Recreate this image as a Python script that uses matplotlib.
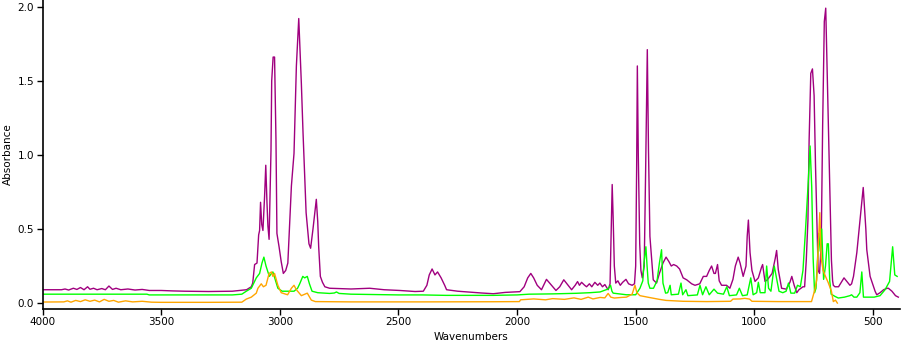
import matplotlib
matplotlib.use("Agg")
import matplotlib.pyplot as plt

# (wavenumber, absorbance)
purple = [
    (4000, 0.090), (3920, 0.090), (3905, 0.095), (3890, 0.088), (3870, 0.100),
    (3855, 0.092), (3840, 0.105), (3825, 0.090), (3810, 0.110), (3800, 0.093),
    (3785, 0.100), (3770, 0.090), (3750, 0.098), (3735, 0.090), (3720, 0.115),
    (3705, 0.092), (3690, 0.100), (3670, 0.090), (3640, 0.095), (3610, 0.088),
    (3580, 0.092), (3550, 0.085), (3500, 0.085), (3450, 0.082), (3400, 0.080),
    (3300, 0.078), (3200, 0.080), (3169, 0.085), (3140, 0.090), (3120, 0.110),
    (3114, 0.135), (3106, 0.260), (3096, 0.270), (3089, 0.460), (3085, 0.490),
    (3081, 0.680), (3076, 0.530), (3071, 0.490), (3064, 0.720), (3059, 0.930),
    (3054, 0.680), (3050, 0.520), (3045, 0.430), (3040, 0.790), (3037, 1.030),
    (3034, 1.500), (3028, 1.660), (3022, 1.660), (3016, 1.100), (3012, 0.470),
    (3003, 0.380), (2994, 0.280), (2985, 0.200), (2975, 0.220), (2966, 0.270),
    (2951, 0.790), (2940, 1.010), (2930, 1.600), (2920, 1.920), (2909, 1.480),
    (2902, 1.150), (2889, 0.610), (2877, 0.400), (2870, 0.370), (2860, 0.500),
    (2853, 0.600), (2846, 0.700), (2840, 0.550), (2836, 0.380), (2829, 0.180),
    (2820, 0.140), (2810, 0.110), (2790, 0.100), (2700, 0.095), (2621, 0.100),
    (2560, 0.090), (2494, 0.085), (2430, 0.078), (2395, 0.080), (2380, 0.120),
    (2370, 0.190), (2358, 0.230), (2346, 0.190), (2335, 0.210), (2320, 0.170),
    (2305, 0.120), (2297, 0.090), (2250, 0.080), (2150, 0.068), (2100, 0.063),
    (2050, 0.072), (1988, 0.077), (1970, 0.110), (1955, 0.170), (1942, 0.200),
    (1930, 0.170), (1915, 0.120), (1897, 0.090), (1876, 0.160), (1860, 0.130),
    (1836, 0.085), (1820, 0.110), (1803, 0.157), (1785, 0.120), (1770, 0.090),
    (1755, 0.120), (1745, 0.145), (1737, 0.120), (1728, 0.140), (1715, 0.120),
    (1707, 0.110), (1695, 0.130), (1685, 0.110), (1672, 0.140), (1660, 0.120),
    (1651, 0.135), (1640, 0.110), (1630, 0.125), (1616, 0.090), (1608, 0.130),
    (1603, 0.500), (1599, 0.800), (1595, 0.580), (1590, 0.250), (1584, 0.135),
    (1575, 0.150), (1565, 0.120), (1555, 0.140), (1541, 0.160), (1530, 0.130),
    (1515, 0.120), (1505, 0.130), (1500, 0.250), (1496, 0.900), (1493, 1.600),
    (1489, 1.000), (1483, 0.400), (1478, 0.220), (1472, 0.170), (1464, 0.250),
    (1458, 0.900), (1451, 1.710), (1446, 1.030), (1440, 0.450), (1426, 0.157),
    (1412, 0.135), (1400, 0.200), (1385, 0.270), (1372, 0.310), (1360, 0.280),
    (1350, 0.250), (1340, 0.260), (1327, 0.250), (1315, 0.230), (1300, 0.170),
    (1285, 0.157), (1264, 0.130), (1250, 0.120), (1230, 0.130), (1215, 0.180),
    (1201, 0.180), (1190, 0.220), (1180, 0.250), (1170, 0.200), (1164, 0.200),
    (1155, 0.260), (1148, 0.150), (1138, 0.120), (1117, 0.120), (1103, 0.100),
    (1090, 0.160), (1080, 0.250), (1068, 0.310), (1060, 0.270), (1047, 0.180),
    (1035, 0.250), (1030, 0.450), (1025, 0.560), (1018, 0.340), (1010, 0.220),
    (997, 0.146), (983, 0.170), (970, 0.240), (965, 0.260), (955, 0.146),
    (945, 0.157), (925, 0.200), (912, 0.300), (906, 0.355), (899, 0.225),
    (885, 0.100), (865, 0.094), (850, 0.140), (842, 0.180), (832, 0.120),
    (821, 0.070), (812, 0.090), (795, 0.110), (788, 0.110), (781, 0.290),
    (774, 0.560), (769, 1.100), (762, 1.550), (755, 1.580), (748, 1.400),
    (742, 0.920), (737, 0.600), (731, 0.220), (725, 0.200), (718, 0.400),
    (712, 1.200), (705, 1.900), (699, 1.990), (692, 1.500), (685, 1.000),
    (682, 0.790), (675, 0.290), (670, 0.150), (667, 0.120), (660, 0.110),
    (645, 0.110), (622, 0.170), (597, 0.120), (590, 0.130), (582, 0.180),
    (568, 0.340), (555, 0.550), (541, 0.780), (530, 0.500), (526, 0.360),
    (512, 0.180), (491, 0.080), (484, 0.056), (470, 0.070), (455, 0.090),
    (440, 0.100), (435, 0.100), (420, 0.080), (405, 0.050), (393, 0.040),
]

green = [
    (4000, 0.060), (3700, 0.060), (3560, 0.060), (3550, 0.055), (3200, 0.055),
    (3160, 0.060), (3141, 0.080), (3120, 0.100), (3099, 0.170), (3085, 0.200),
    (3075, 0.270), (3067, 0.310), (3058, 0.250), (3044, 0.180), (3035, 0.200),
    (3029, 0.210), (3019, 0.157), (3008, 0.100), (2990, 0.080), (2940, 0.080),
    (2925, 0.100), (2916, 0.130), (2903, 0.180), (2895, 0.170), (2884, 0.180),
    (2875, 0.130), (2864, 0.080), (2840, 0.070), (2790, 0.065), (2770, 0.068),
    (2761, 0.075), (2750, 0.065), (2700, 0.060), (2500, 0.055), (2400, 0.055),
    (2300, 0.052), (2100, 0.052), (2000, 0.055), (1950, 0.060), (1850, 0.062),
    (1750, 0.066), (1693, 0.070), (1650, 0.075), (1625, 0.090), (1616, 0.095),
    (1606, 0.120), (1600, 0.080), (1595, 0.067), (1560, 0.060), (1539, 0.056),
    (1500, 0.056), (1490, 0.080), (1482, 0.100), (1470, 0.150), (1465, 0.270),
    (1457, 0.380), (1452, 0.250), (1447, 0.135), (1440, 0.100), (1425, 0.100),
    (1410, 0.150), (1400, 0.270), (1391, 0.360), (1385, 0.135), (1374, 0.067),
    (1365, 0.070), (1355, 0.120), (1350, 0.056), (1320, 0.060), (1309, 0.135),
    (1302, 0.056), (1288, 0.090), (1280, 0.050), (1240, 0.055), (1229, 0.120),
    (1218, 0.056), (1204, 0.110), (1190, 0.056), (1170, 0.094), (1155, 0.067),
    (1130, 0.060), (1116, 0.110), (1105, 0.050), (1075, 0.055), (1063, 0.100),
    (1050, 0.050), (1030, 0.055), (1015, 0.170), (1005, 0.056), (990, 0.070),
    (983, 0.140), (975, 0.070), (955, 0.070), (948, 0.250), (940, 0.100),
    (930, 0.080), (916, 0.250), (909, 0.190), (896, 0.080), (880, 0.070),
    (866, 0.080), (856, 0.135), (846, 0.067), (830, 0.067), (818, 0.120),
    (806, 0.110), (795, 0.220), (784, 0.500), (774, 0.780), (765, 1.060),
    (758, 0.780), (752, 0.300), (746, 0.070), (740, 0.100), (728, 0.470),
    (722, 0.350), (716, 0.500), (708, 0.160), (700, 0.250), (693, 0.400),
    (688, 0.400), (682, 0.150), (676, 0.060), (660, 0.045), (646, 0.034),
    (620, 0.040), (597, 0.050), (590, 0.056), (580, 0.040), (568, 0.040),
    (555, 0.070), (547, 0.210), (540, 0.040), (495, 0.040), (470, 0.050),
    (449, 0.090), (430, 0.146), (417, 0.380), (408, 0.190), (398, 0.180),
]

orange = [
    (4000, 0.007), (3910, 0.008), (3895, 0.015), (3880, 0.006), (3860, 0.018),
    (3840, 0.010), (3820, 0.022), (3800, 0.012), (3780, 0.020), (3760, 0.008),
    (3740, 0.025), (3720, 0.012), (3700, 0.018), (3680, 0.006), (3650, 0.015),
    (3620, 0.008), (3580, 0.012), (3540, 0.006), (3500, 0.005), (3300, 0.005),
    (3160, 0.006), (3141, 0.027), (3120, 0.040), (3099, 0.067), (3092, 0.100),
    (3078, 0.130), (3069, 0.110), (3058, 0.120), (3045, 0.200), (3035, 0.210),
    (3029, 0.180), (3022, 0.200), (3008, 0.120), (2994, 0.070), (2967, 0.056),
    (2951, 0.100), (2940, 0.120), (2930, 0.090), (2909, 0.050), (2884, 0.067),
    (2867, 0.020), (2850, 0.010), (2700, 0.008), (2500, 0.008), (2400, 0.008),
    (2100, 0.009), (1990, 0.010), (1985, 0.022), (1930, 0.028), (1880, 0.022),
    (1850, 0.030), (1800, 0.025), (1760, 0.035), (1730, 0.025), (1700, 0.040),
    (1680, 0.028), (1650, 0.038), (1630, 0.035), (1616, 0.065), (1605, 0.040),
    (1590, 0.034), (1560, 0.038), (1539, 0.040), (1515, 0.060), (1503, 0.120),
    (1495, 0.070), (1482, 0.050), (1450, 0.040), (1400, 0.025), (1372, 0.018),
    (1300, 0.012), (1200, 0.010), (1100, 0.012), (1090, 0.027), (1060, 0.028),
    (1040, 0.032), (1020, 0.027), (1010, 0.012), (900, 0.010), (770, 0.010),
    (759, 0.010), (752, 0.050), (745, 0.090), (737, 0.157), (730, 0.400),
    (724, 0.610), (718, 0.300), (710, 0.220), (700, 0.180), (689, 0.140),
    (675, 0.080), (667, 0.010), (658, 0.020), (650, 0.000),
]

series = [(purple, '#a0007f'), (green, '#00ff00'), (orange, '#ffa500')]

fig = plt.figure(figsize=(9.02, 3.5), dpi=100)
ax = fig.add_axes([42.5 / 902, 41 / 350, 857.5 / 902, 309 / 350])

for pts, color in series:
    wn = [p[0] for p in pts]
    ab = [p[1] for p in pts]
    ax.plot(wn, ab, color=color, lw=1.0)

ax.set_xlim(4000, 386)
ax.set_ylim(-0.04, 2.045)
ax.set_xticks([4000, 3500, 3000, 2500, 2000, 1500, 1000, 500])
ax.set_yticks([0.0, 0.5, 1.0, 1.5, 2.0])
ax.set_yticklabels(['0.0', '0.5', '1.0', '1.5', '2.0'])
ax.tick_params(labelsize=7.5, length=4, width=1, colors='black', pad=2)
ax.set_xlabel('Wavenumbers', fontsize=7.5, labelpad=3)
ax.set_ylabel('Absorbance', fontsize=7.5, va='center')
ax.yaxis.set_label_coords(-0.040, 0.5)

for side in ['top', 'right']:
    ax.spines[side].set_visible(False)
for side in ['left', 'bottom']:
    ax.spines[side].set_linewidth(1.2)

fig.savefig('out.png', dpi=100)
